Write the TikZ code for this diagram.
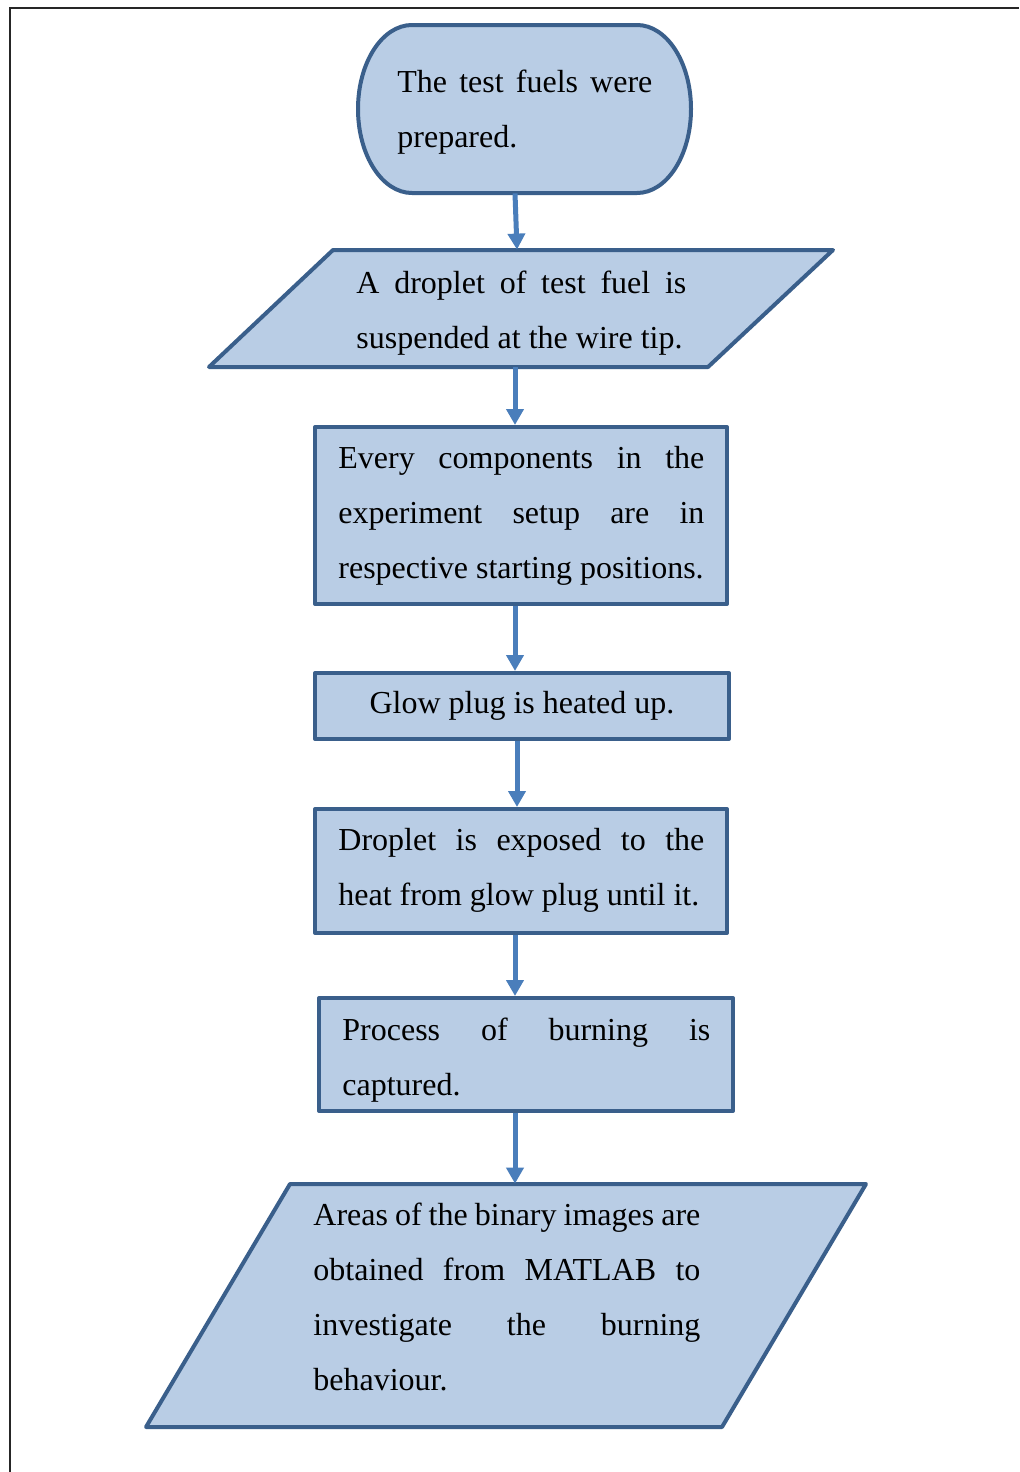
\documentclass[tikz,border=0pt]{standalone}
\usepackage{fontspec}
\setmainfont{Liberation Serif}
\usetikzlibrary{arrows.meta,fit}
\definecolor{fillc}{HTML}{B9CDE5}
\definecolor{edgec}{HTML}{3A5F8B}
\definecolor{arrc}{HTML}{4A7EBB}
\tikzset{
  shp/.style={draw=edgec, fill=fillc, line width=2pt, line join=round},
  boxnode/.style={shp, inner sep=0pt},
  hidden/.style={inner sep=0pt},
  arr/.style={draw=arrc, line width=2.5pt, -{Triangle[width=8.5pt,length=8pt]}},
  txt/.style={inner sep=0pt, anchor=base west, font=\fontsize{16}{19}\selectfont},
  frameline/.style={draw=black!85, line width=0.7pt}
}
\begin{document}
\begin{tikzpicture}[x=0.5pt,y=-0.5pt]
\useasboundingbox (0,0) rectangle (1019,1472);
\draw[frameline] (10,1472) -- (10,8) -- (1019,8);

% column reference coordinates for connectors
\coordinate (cA) at (515,0);
\coordinate (cB) at (517,0);

% 1 terminator
\draw[shp] (412,25) -- (637,25)
  .. controls (666.8,25) and (691,62.6) .. (691,109)
  .. controls (691,155.4) and (666.8,193) .. (637,193)
  -- (412,193)
  .. controls (382.2,193) and (358,155.4) .. (358,109)
  .. controls (358,62.6) and (382.2,25) .. (412,25) -- cycle;
\node[hidden, fit={(358,25) (691,193)}] (n1) {};
\node[txt] (t1a) at (397,92) {\makebox[127.5pt][s]{The test fuels were}};
\node[txt] (t1b) at (397,147) {prepared.};

% 2 parallelogram
\draw[shp] (333,250) -- (833,250) -- (708,367) -- (209,367) -- cycle;
\node[hidden, fit={(209,250) (833,367)}] (n2) {};
\node[txt] (t2a) at (356,293) {\makebox[165pt][s]{A droplet of test fuel is}};
\node[txt] (t2b) at (356,348) {suspended at the wire tip.};

% 3 rectangle
\node[boxnode, fit={(315,427) (727,604)}] (n3) {};
\node[txt] (t3a) at (338,468) {\makebox[183pt][s]{Every components in the}};
\node[txt] (t3b) at (338,523) {\makebox[183pt][s]{experiment setup are in}};
\node[txt] (t3c) at (338,578) {respective starting positions.};

% 4 rectangle
\node[boxnode, fit={(315,673) (729,739)}] (n4) {};
\node[txt, anchor=base] (t4) at (522,713) {Glow plug is heated up.};

% 5 rectangle
\node[boxnode, fit={(315,809) (727,933)}] (n5) {};
\node[txt] (t5a) at (338,850) {\makebox[183pt][s]{Droplet is exposed to the}};
\node[txt] (t5b) at (338,905) {heat from glow plug until it.};

% 6 rectangle
\node[boxnode, fit={(319,998) (733,1111)}] (n6) {};
\node[txt] (t6a) at (342,1040) {\makebox[184pt][s]{Process of burning is}};
\node[txt] (t6b) at (342,1095) {captured.};

% 7 parallelogram
\draw[shp] (290,1184) -- (866,1184) -- (722,1427) -- (146,1427) -- cycle;
\node[hidden, fit={(146,1184) (866,1427)}] (n7) {};
\node[txt] (t7a) at (313,1225) {\makebox[193.5pt][s]{Areas of the binary images are}};
\node[txt] (t7b) at (313,1280) {\makebox[193.5pt][s]{obtained from MATLAB to}};
\node[txt] (t7c) at (313,1335) {\makebox[193.5pt][s]{investigate the burning}};
\node[txt] (t7d) at (313,1390) {behaviour.};

% connectors
\draw[arr] (n1.south -| cA) -- (n2.north -| cB);
\draw[arr] (n2.south -| cA) -- (n3.north -| cA);
\draw[arr] (n3.south -| cA) -- (n4.north -| cA);
\draw[arr] (n4.south -| cB) -- (n5.north -| cB);
\draw[arr] (n5.south -| cA) -- (n6.north -| cA);
\draw[arr] (n6.south -| cA) -- (n7.north -| cA);
\end{tikzpicture}
\end{document}
